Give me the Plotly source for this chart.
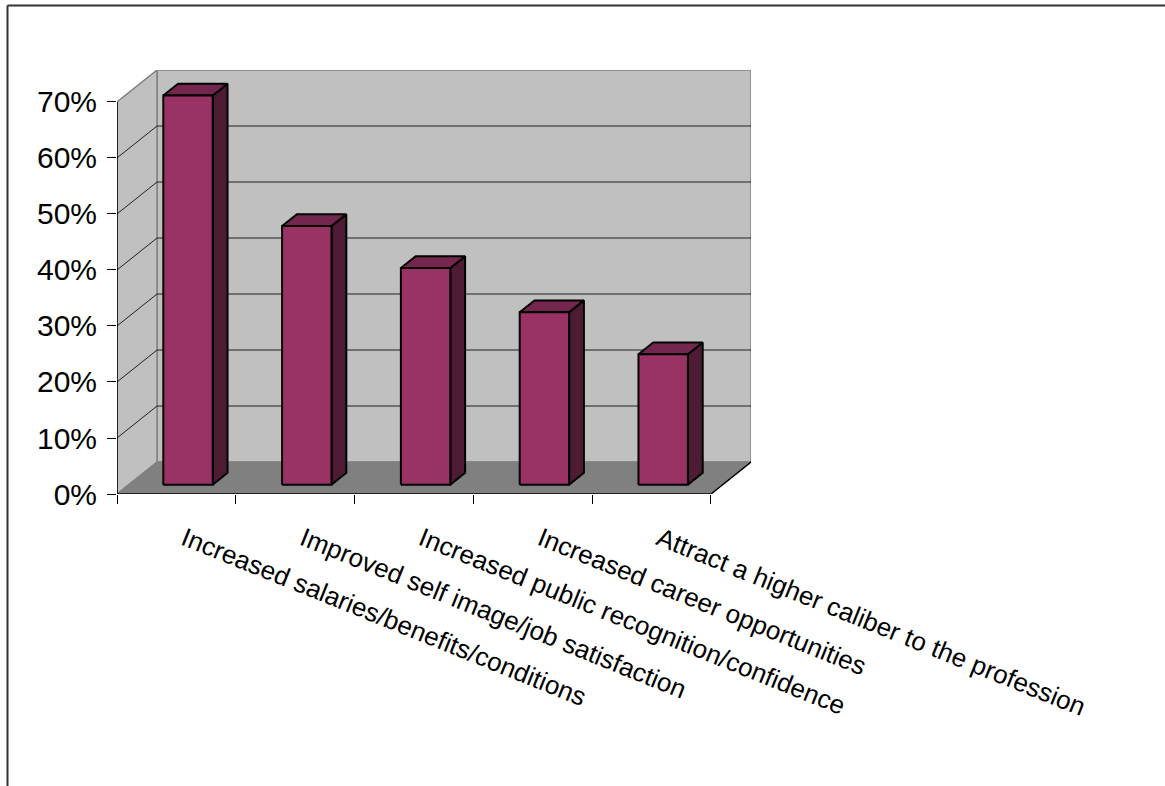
import plotly.graph_objects as go

# Survey results: share of respondents citing each benefit
categories = [
    "Increased salaries/benefits/conditions",
    "Improved self image/job satisfaction",
    "Increased public recognition/confidence",
    "Increased career opportunities",
    "Attract a higher caliber to the profession",
]
values = [69.5, 46.2, 38.7, 30.8, 23.3]
y_ticks = [0, 10, 20, 30, 40, 50, 60, 70]
y_tick_labels = [f"{v}%" for v in y_ticks]

# Pseudo-3D geometry (axis units)
Y_MAX = 70
DEPTH_X = 0.337          # horizontal shift of the back plane (categories)
DEPTH_Y = 5.71           # vertical shift of the back plane (percent)
BAR_HALF = 0.208         # half width of a bar
BAR_FRONT = 0.29         # depth fraction of a bar's front face
BAR_BACK = 0.66          # depth fraction of a bar's back face
X0, X1 = -0.5, len(categories) - 0.5

WALL = "#c0c0c0"
FLOOR = "#808080"
EDGE = "#808080"
FRONT = "#993366"
TOP = "#74274e"
SIDE = "#4e1b35"

W, H = 1165, 786
fig = go.Figure()


def poly(xs, ys, fill, line_color="black", width=2):
    fig.add_trace(go.Scatter(
        x=list(xs) + [xs[0]], y=list(ys) + [ys[0]], mode="lines",
        fill="toself", fillcolor=fill,
        line=dict(color=line_color, width=width),
        hoverinfo="skip", showlegend=False,
    ))


def seg(xs, ys, color="black", width=1):
    fig.add_trace(go.Scatter(
        x=xs, y=ys, mode="lines", line=dict(color=color, width=width),
        hoverinfo="skip", showlegend=False,
    ))


# back wall
poly([X0 + DEPTH_X, X1 + DEPTH_X, X1 + DEPTH_X, X0 + DEPTH_X],
     [DEPTH_Y, DEPTH_Y, Y_MAX + DEPTH_Y, Y_MAX + DEPTH_Y], WALL, EDGE, 1.5)
# left side wall
poly([X0, X0 + DEPTH_X, X0 + DEPTH_X, X0],
     [0, DEPTH_Y, Y_MAX + DEPTH_Y, Y_MAX], WALL, EDGE, 1.5)
# floor
poly([X0, X1, X1 + DEPTH_X, X0 + DEPTH_X],
     [0, 0, DEPTH_Y, DEPTH_Y], FLOOR, FLOOR, 1)
seg([X0, X1, X1 + DEPTH_X], [0, 0, DEPTH_Y], "black", 1.5)

# gridlines on the side wall and back wall
for v in y_ticks[1:-1]:
    seg([X0, X0 + DEPTH_X, X1 + DEPTH_X], [v, v + DEPTH_Y, v + DEPTH_Y],
        "#202020", 1)

# value axis line
seg([X0, X0], [0, Y_MAX], "black", 1.5)

# bars: front face, top face, right side face
for i, v in enumerate(values):
    xl, xr = i - BAR_HALF, i + BAR_HALF
    fx, fy = BAR_FRONT * DEPTH_X, BAR_FRONT * DEPTH_Y
    bx, by = BAR_BACK * DEPTH_X, BAR_BACK * DEPTH_Y
    poly([xr + fx, xr + bx, xr + bx, xr + fx],
         [fy, by, v + by, v + fy], SIDE)
    poly([xl + fx, xr + fx, xr + bx, xl + bx],
         [v + fy, v + fy, v + by, v + by], TOP)
    poly([xl + fx, xr + fx, xr + fx, xl + fx],
         [fy, fy, v + fy, v + fy], FRONT)

font_family = "Arial, 'Liberation Sans', sans-serif"

fig.update_layout(
    width=W, height=H,
    autosize=False,
    margin=dict(l=0, r=0, t=0, b=0, pad=0),
    paper_bgcolor="white", plot_bgcolor="rgba(0,0,0,0)",
    showlegend=False,
    xaxis=dict(
        domain=[117 / W, 751 / W],
        range=[X0, X1 + DEPTH_X],
        automargin=False,
        showgrid=False, zeroline=False, showline=False,
        tickmode="array", tickvals=list(range(len(categories))),
        ticktext=categories, ticks="", tickangle=22,
        ticklabelstandoff=24, ticklabelshift=8,
        tickfont=dict(family=font_family, size=26, color="black"),
        minor=dict(tickmode="array",
                   tickvals=[X0 + k for k in range(len(categories) + 1)],
                   ticks="outside", ticklen=9, tickwidth=1,
                   tickcolor="black", showgrid=False),
        fixedrange=True,
    ),
    yaxis=dict(
        domain=[1 - 494 / H, 1 - 70 / H],
        range=[0, Y_MAX + DEPTH_Y],
        automargin=False,
        showgrid=False, zeroline=False, showline=False,
        tickmode="array", tickvals=y_ticks, ticktext=y_tick_labels,
        ticks="outside", ticklen=9, tickwidth=1, tickcolor="black",
        ticklabelstandoff=4,
        tickfont=dict(family=font_family, size=30, color="black"),
        fixedrange=True,
    ),
    shapes=[
        dict(type="line", xref="paper", yref="paper",
             x0=7.5 / W, x1=1.0, y0=1 - 5.5 / H, y1=1 - 5.5 / H,
             line=dict(color="#333333", width=2)),
        dict(type="line", xref="paper", yref="paper",
             x0=7.5 / W, x1=7.5 / W, y0=0, y1=1 - 5.5 / H,
             line=dict(color="#333333", width=2)),
    ],
)

fig.write_html("out.html", config={"displayModeBar": False})
